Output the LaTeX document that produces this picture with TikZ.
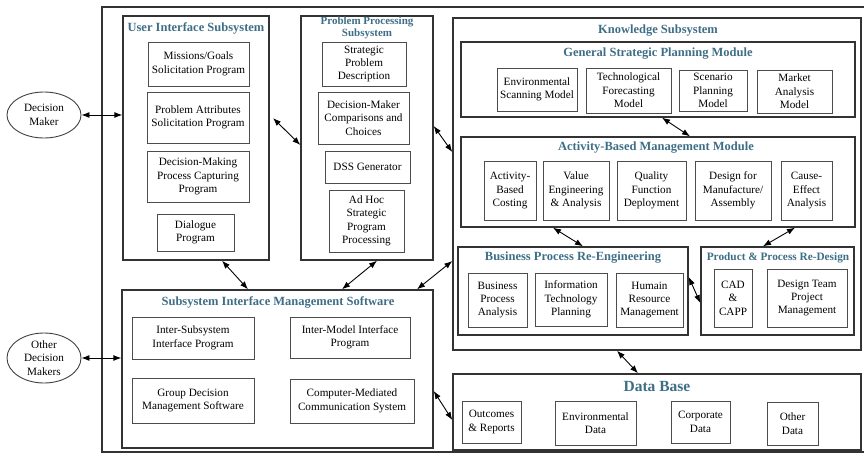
\documentclass[tikz,border=0pt]{standalone}
\usepackage{fontspec}
\setmainfont{Liberation Serif}
\usepackage{xcolor}
\usepackage{tikz}
\usetikzlibrary{shapes.geometric, arrows.meta, positioning}
\definecolor{headblue}{RGB}{62,110,134}

\begin{document}
\begin{tikzpicture}[x=1pt, y=-1pt,
  frame/.style={draw=black!80, line width=1.4pt, minimum width=#1},
  item/.style={draw=black!70, line width=0.9pt, align=center, inner sep=1pt,
    font=\fontsize{11.2}{13.4}\selectfont},
  head/.style={text=headblue, inner sep=0pt, align=center,
    font=\bfseries\fontsize{12.5}{14}\selectfont},
  person/.style={ellipse, draw=black!75, line width=0.9pt, align=center, inner sep=0pt,
    font=\fontsize{11.2}{13.4}\selectfont},
  link/.style={{Latex[length=8pt,width=6pt]}-{Latex[length=8pt,width=6pt]}, line width=0.9pt}]
\useasboundingbox (0,0) rectangle (864,455);
\draw[draw=black!80, line width=1.4pt] (102,7) rectangle (872,452);

\node[person, minimum width=74, minimum height=46] (dm) at (44,115) {Decision\\Maker};
\node[person, minimum width=74, minimum height=50] (odm) at (44,358) {Other\\Decision\\Makers};

\node[frame=146, minimum height=244] (ui) at (196,138) {};
\node[head] (uititle) at (196,28) {User Interface Subsystem};
\node[item, minimum width=101, minimum height=44] (missions) at (198.5,64) {Missions/Goals\\Solicitation Program};
\node[item, minimum width=102, minimum height=51] (attrib) at (198,117.5) {Problem Attributes\\Solicitation Program};
\node[item, minimum width=102, minimum height=51] (capture) at (198,176.5) {Decision-Making\\Process Capturing\\Program};
\node[item, minimum width=77, minimum height=37] (dialogue) at (195.5,232.5) {Dialogue\\Program};

\node[frame=132, minimum height=244] (pps) at (367,138) {};
\node[head, font=\bfseries\fontsize{11}{12}\selectfont] (ppstitle) at (367,28) {Problem Processing\\Subsystem};
\node[item, minimum width=84, minimum height=44] (stratprob) at (364,64) {Strategic\\Problem\\Description};
\node[item, minimum width=91, minimum height=52] (choices) at (363.5,118) {Decision-Maker\\Comparisons and\\Choices};
\node[item, minimum width=85, minimum height=32] (dssgen) at (367.5,167) {DSS Generator};
\node[item, minimum width=75, minimum height=62] (adhoc) at (366.5,221) {Ad Hoc\\Strategic\\Program\\Processing};

\node[frame=408, minimum height=332] (ks) at (657,184) {};
\node[head] (kstitle) at (658,31) {Knowledge Subsystem};

\node[frame=394, minimum height=75] (gsp) at (658,79.5) {};
\node[head] (gsptitle) at (658,54) {General Strategic Planning Module};
\node[item, minimum width=80, minimum height=43] (envscan) at (537,89.5) {Environmental\\Scanning Model};
\node[item, minimum width=85, minimum height=45] (techfore) at (628.5,90.5) {Technological\\Forecasting\\Model};
\node[item, minimum width=68, minimum height=41] (scenario) at (713,90.5) {Scenario\\Planning\\Model};
\node[item, minimum width=75, minimum height=43] (market) at (794.5,91.5) {Market\\Analysis\\Model};

\node[frame=394, minimum height=90] (abm) at (658,182) {};
\node[head] (abmtitle) at (656,148) {Activity-Based Management Module};
\node[item, minimum width=52, minimum height=59] (costing) at (510,190.5) {Activity-\\Based\\Costing};
\node[item, minimum width=66, minimum height=59] (valueeng) at (576,190.5) {Value\\Engineering\\\& Analysis};
\node[item, minimum width=69, minimum height=59] (qfd) at (651.5,190.5) {Quality\\Function\\Deployment};
\node[item, minimum width=76, minimum height=59] (dfma) at (733,190.5) {Design for\\Manufacture/\\Assembly};
\node[item, minimum width=51, minimum height=59] (cause) at (806.5,190.5) {Cause-\\Effect\\Analysis};

\node[frame=230, minimum height=88] (bpr) at (573,291) {};
\node[head] (bprtitle) at (573,258) {Business Process Re-Engineering};
\node[item, minimum width=59, minimum height=54] (bpa) at (497.5,300) {Business\\Process\\Analysis};
\node[item, minimum width=72, minimum height=53] (itp) at (571,299.5) {Information\\Technology\\Planning};
\node[item, minimum width=67, minimum height=54] (hrm) at (649.5,300) {Humain\\Resource\\Management};

\node[frame=153, minimum height=88] (ppr) at (777.5,291) {};
\node[head, font=\bfseries\fontsize{11.3}{13}\selectfont] (pprtitle) at (778,258) {Product \& Process Re-Design};
\node[item, minimum width=38, minimum height=58] (cad) at (733,298) {CAD\\\&\\CAPP};
\node[item, minimum width=80, minimum height=58] (teampm) at (807,298) {Design Team\\Project\\Management};

\node[frame=311, minimum height=158] (sims) at (277.5,369) {};
\node[head] (simstitle) at (278,302) {Subsystem Interface Management Software};
\node[item, minimum width=122, minimum height=42] (intersub) at (193,338) {Inter-Subsystem\\Interface Program};
\node[item, minimum width=120, minimum height=41] (intermod) at (350,337.5) {Inter-Model Interface\\Program};
\node[item, minimum width=122, minimum height=45] (groupdm) at (193,400.5) {Group Decision\\Management Software};
\node[item, minimum width=124, minimum height=44] (cmcs) at (352,401) {Computer-Mediated\\Communication System};

\node[frame=408, minimum height=76] (db) at (657,412) {};
\node[head, font=\bfseries\fontsize{15.5}{17}\selectfont] (dbtitle) at (657,386) {Data Base};
\node[item, minimum width=59, minimum height=42] (outcomes) at (491.5,422) {Outcomes\\\& Reports};
\node[item, minimum width=81, minimum height=44] (envdata) at (595.5,423) {Environmental\\Data};
\node[item, minimum width=59, minimum height=42] (corpdata) at (700.5,422) {Corporate\\Data};
\node[item, minimum width=51, minimum height=43] (otherdata) at (792.5,423.5) {Other\\Data};

\draw[link] (dm.east) -- (dm.east -| ui.west);
\draw[link] (odm.east) -- (odm.east -| sims.west);
\draw[link] (273,118) -- (pps.west |- 0,145);
\draw[link] (pps.east |- 0,126) -- (ks.west |- 0,152);
\draw[link] (ui.south -| 222,0) -- (sims.north -| 248,0);
\draw[link] (pps.south -| 377,0) -- (sims.north -| 342,0);
\draw[link] (sims.north -| 417,0) -- (ks.west |- 0,261);
\draw[link] (sims.east |- 0,391) -- (db.west |- 0,420);
\draw[link] (gsp.south -| 662,0) -- (abm.north -| 690,0);
\draw[link] (abm.south -| 553,0) -- (bpr.north -| 583,0);
\draw[link] (abm.south -| 795,0) -- (ppr.north -| 763,0);
\draw[link] (bpr.east |- 0,277) -- (ppr.west |- 0,303);
\draw[link] (ks.south -| 617,0) -- (db.north -| 638,0);
\end{tikzpicture}
\end{document}
